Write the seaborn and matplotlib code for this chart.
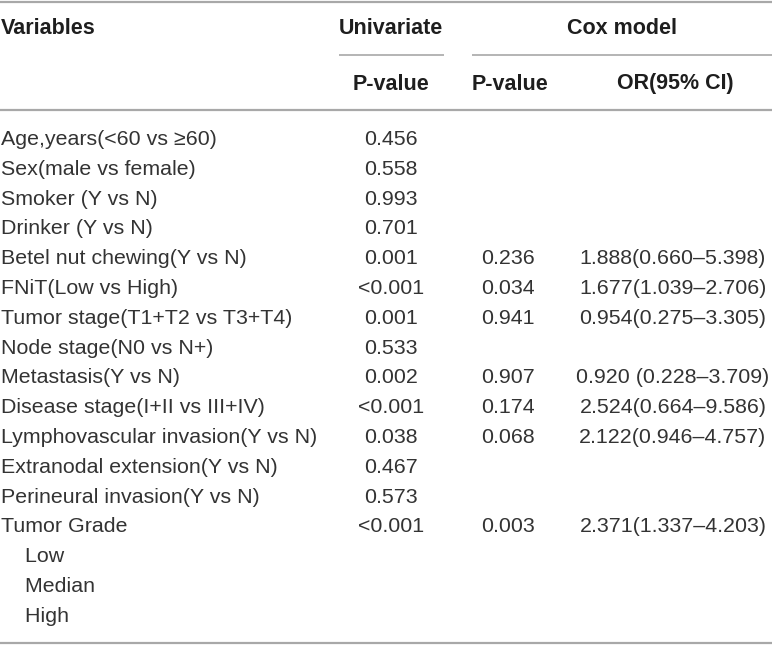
import matplotlib
matplotlib.use("Agg")
import matplotlib.pyplot as plt
import seaborn as sns
import pandas as pd

sns.set_theme(style="white")
plt.rcParams['font.family'] = ['Liberation Sans', 'DejaVu Sans']

variables = [
    "Age,years(<60 vs \u226560)",
    "Sex(male vs female)",
    "Smoker (Y vs N)",
    "Drinker (Y vs N)",
    "Betel nut chewing(Y vs N)",
    "FNiT(Low vs High)",
    "Tumor stage(T1+T2 vs T3+T4)",
    "Node stage(N0 vs N+)",
    "Metastasis(Y vs N)",
    "Disease stage(I+II vs III+IV)",
    "Lymphovascular invasion(Y vs N)",
    "Extranodal extension(Y vs N)",
    "Perineural invasion(Y vs N)",
    "Tumor Grade",
    "    Low",
    "    Median",
    "    High",
]
univariate_p = ["0.456", "0.558", "0.993", "0.701", "0.001", "<0.001", "0.001", "0.533",
                "0.002", "<0.001", "0.038", "0.467", "0.573", "<0.001", "", "", ""]
cox_p = ["", "", "", "", "0.236", "0.034", "0.941", "", "0.907", "0.174", "0.068",
         "", "", "0.003", "", "", ""]
cox_or = ["", "", "", "", "1.888(0.660\u20135.398)", "1.677(1.039\u20132.706)",
          "0.954(0.275\u20133.305)", "", "0.920 (0.228\u20133.709)",
          "2.524(0.664\u20139.586)", "2.122(0.946\u20134.757)", "", "",
          "2.371(1.337\u20134.203)", "", "", ""]

df = pd.DataFrame({"Variables": variables, "Univariate": univariate_p,
                   "CoxP": cox_p, "OR": cox_or})

W, H = 772, 645
fig = plt.figure(figsize=(W / 100, H / 100), dpi=100)
ax = fig.add_axes([0, 0, 1, 1])
ax.set_xlim(0, W)
ax.set_ylim(H, 0)
ax.axis("off")

body_color = "#333333"
head_color = "#1e1e1e"
line_color = "#a8a8a8"
fs_body = 15.4
fs_head = 15.5

# column anchors
x_var = 1
x_uni = 391
x_coxp = 508
x_or = 673

# header
y_h1, y_sub, y_h2, y_top, y_hline = 28, 55, 84, 1.5, 110
ax.text(x_var, y_h1, "Variables", ha="left", va="center", fontsize=fs_head,
        fontweight="bold", color=head_color)
ax.text(391, y_h1, "Univariate", ha="center", va="center", fontsize=fs_head,
        fontweight="bold", color=head_color)
ax.text(622, y_h1, "Cox model", ha="center", va="center", fontsize=fs_head,
        fontweight="bold", color=head_color)
ax.text(391, y_h2, "P-value", ha="center", va="center", fontsize=fs_head,
        fontweight="bold", color=head_color)
ax.text(510, y_h2, "P-value", ha="center", va="center", fontsize=fs_head,
        fontweight="bold", color=head_color)
ax.text(675, y_h2, "OR(95% CI)", ha="center", va="center", fontsize=fs_head,
        fontweight="bold", color=head_color)

# rules
ax.plot([0, W], [y_top, y_top], color=line_color, lw=1.6, solid_capstyle="butt")
ax.plot([339, 444], [y_sub, y_sub], color=line_color, lw=1.2, solid_capstyle="butt")
ax.plot([472, W], [y_sub, y_sub], color=line_color, lw=1.2, solid_capstyle="butt")
ax.plot([0, W], [y_hline, y_hline], color=line_color, lw=1.6, solid_capstyle="butt")

# body
y0, dy = 139.5, 29.8
for i, row in df.iterrows():
    y = y0 + i * dy
    ax.text(x_var, y, row["Variables"], ha="left", va="center", fontsize=fs_body,
            color=body_color)
    if row["Univariate"]:
        ax.text(x_uni, y, row["Univariate"], ha="center", va="center",
                fontsize=fs_body, color=body_color)
    if row["CoxP"]:
        ax.text(x_coxp, y, row["CoxP"], ha="center", va="center",
                fontsize=fs_body, color=body_color)
    if row["OR"]:
        ax.text(x_or, y, row["OR"], ha="center", va="center",
                fontsize=fs_body, color=body_color)

y_bottom = 643
ax.plot([0, W], [y_bottom, y_bottom], color=line_color, lw=1.6, solid_capstyle="butt")

fig.savefig("out.png", dpi=100, facecolor="white")
